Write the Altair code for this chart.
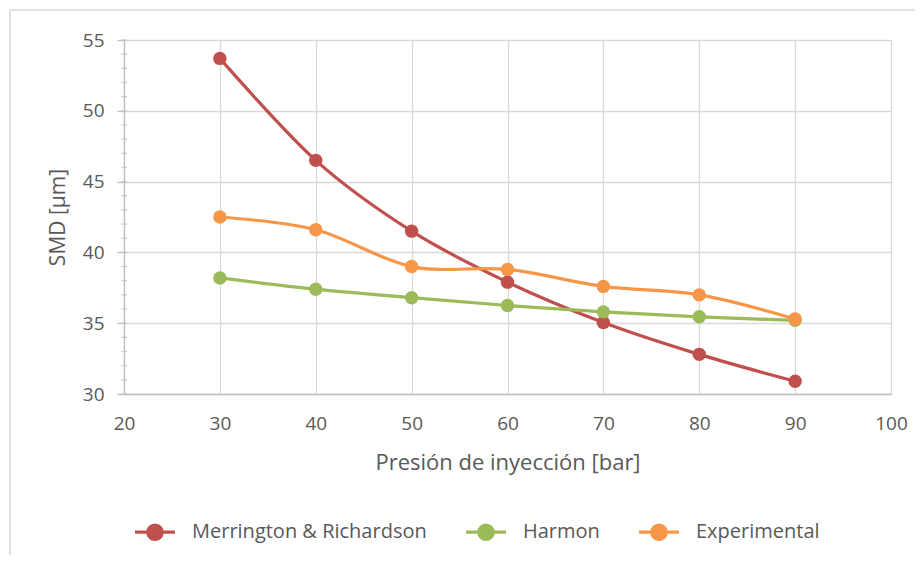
import altair as alt
import pandas as pd

pressure = [30, 40, 50, 60, 70, 80, 90]
merrington = [53.7, 46.5, 41.5, 37.9, 35.05, 32.8, 30.9]
harmon = [38.2, 37.4, 36.8, 36.25, 35.8, 35.45, 35.2]
experimental = [42.5, 41.6, 39.0, 38.8, 37.6, 37.0, 35.3]

series_names = ["Merrington & Richardson", "Harmon", "Experimental"]
series_colors = ["#C0504D", "#9BBB59", "#F79646"]
x_ticks = [20, 30, 40, 50, 60, 70, 80, 90, 100]
y_ticks = [30, 35, 40, 45, 50, 55]
y_minor = list(range(30, 56))

rows = []
for name, vals in zip(series_names, [merrington, harmon, experimental]):
    for p, v in zip(pressure, vals):
        rows.append({"Presión": p, "SMD": v, "Serie": name})
df = pd.DataFrame(rows)

FONT = "Open Sans"
TXT = "#595959"

xs = alt.Scale(domain=[20, 100], nice=False, zero=False)
ys = alt.Scale(domain=[30, 55], nice=False, zero=False)
cs = alt.Scale(domain=series_names, range=series_colors)

sym = "M -2 0 L 2 0 M 0.72 0 A 0.72 0.72 0 1 1 -0.72 0 A 0.72 0.72 0 1 1 0.72 0 Z"
leg = alt.Legend(
    title=None, orient="none", legendX=9, legendY=480, direction="horizontal",
    symbolType=sym, symbolSize=400, symbolStrokeWidth=3.2,
    labelFont=FONT, labelFontSize=20, labelColor=TXT, labelOffset=25, labelLimit=400,
    columnPadding=32, symbolOffset=10,
)

frame = alt.Chart(pd.DataFrame({"a": [0]})).mark_rect(
    fill=None, stroke="#d9d9d9", strokeWidth=1.5
).encode(x=alt.value(-114), x2=alt.value(900), y=alt.value(-30), y2=alt.value(600))

base = alt.Chart(df)
xenc = alt.X("Presión:Q", scale=xs, axis=alt.Axis(
    values=x_ticks, title="Presión de inyección [bar]", grid=True,
    gridColor="#d9d9d9", gridWidth=1.3, domainColor="#bfbfbf", domainWidth=1.3,
    ticks=False, labelPadding=20, labelFlush=False,
    labelFont=FONT, labelFontSize=19, labelColor=TXT,
    titleFont=FONT, titleFontSize=22, titleFontWeight="normal", titleColor=TXT, titlePadding=19,
))
yenc = alt.Y("SMD:Q", scale=ys, axis=alt.Axis(
    values=y_ticks, title="SMD [µm]", grid=True,
    gridColor="#d9d9d9", gridWidth=1.3, domainColor="#bfbfbf", domainWidth=1.3,
    tickColor="#bfbfbf", tickSize=7, tickWidth=1.3, labelPadding=13, labelFlush=False,
    labelFont=FONT, labelFontSize=19, labelColor=TXT,
    titleFont=FONT, titleFontSize=21, titleFontWeight="normal", titleColor=TXT, titlePadding=14,
))

minor = alt.Chart(pd.DataFrame({"SMD": y_minor})).mark_tick(
    color="#bfbfbf", size=6, thickness=1.3
).encode(y=yenc, x=alt.value(0))

layers = [frame, minor]
for i, name in enumerate(series_names):
    sub = base.transform_filter(alt.datum.Serie == name)
    line = sub.mark_line(interpolate="cardinal", strokeWidth=3.2).encode(
        x=xenc, y=yenc, color=alt.Color("Serie:N", scale=cs, legend=leg)
    )
    pts = sub.mark_point(filled=True, size=180, opacity=1).encode(
        x=xenc, y=yenc,
        fill=alt.Fill("Serie:N", scale=cs, legend=leg),
    )
    layers += [line, pts]

chart = alt.layer(*layers).properties(
    width=767, height=354,
    autosize=alt.AutoSizeParams(type="none"),
    padding={"left": 116, "top": 32, "right": 24, "bottom": 161},
).configure_view(stroke=None).configure(background="white")

chart.save("out.html", embed_options={"renderer": "svg", "actions": False})
